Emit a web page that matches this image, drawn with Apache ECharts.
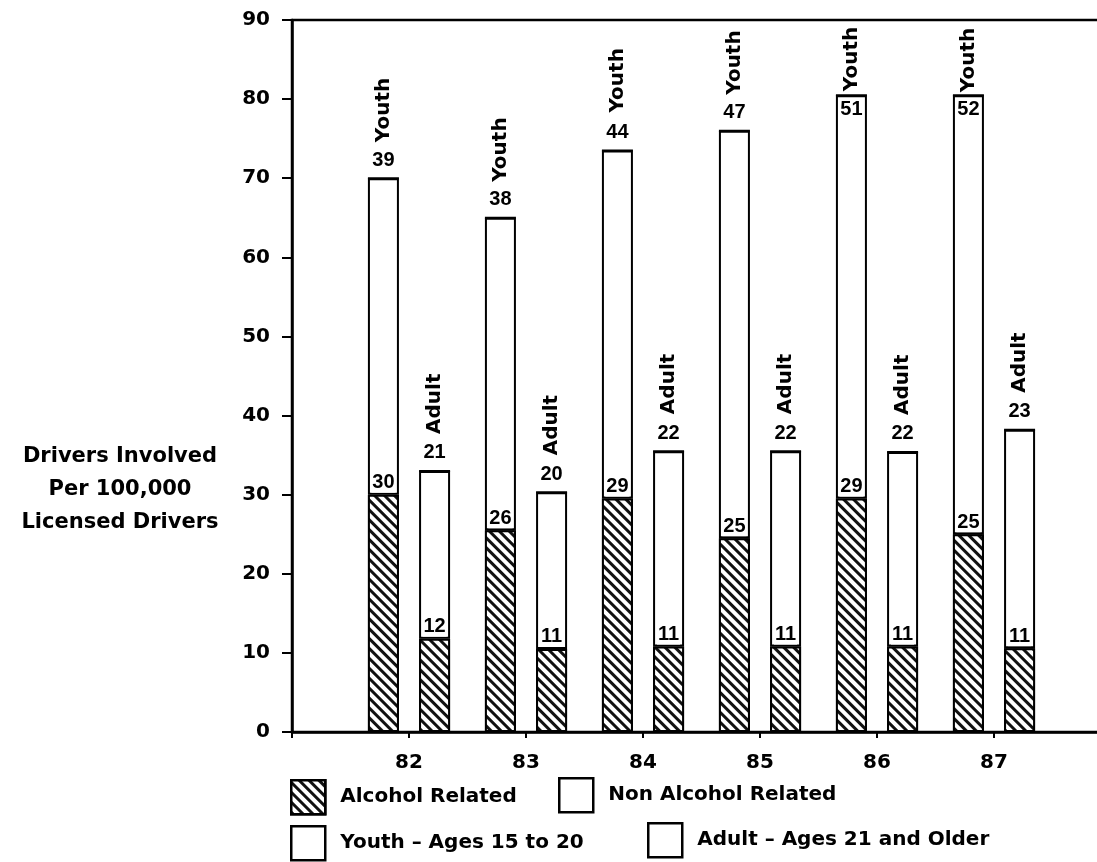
<!DOCTYPE html>
<html lang="en">
  <head>
    <meta charset="UTF-8" />
    <title>Drivers Involved Per 100,000 Licensed Drivers</title>
    <script src="https://cdn.jsdelivr.net/npm/echarts@6/dist/echarts.min.js"></script>
    <style>
      html, body { margin: 0; padding: 0; background: #fff; }
      #box { width: 1097px; height: 862px; }
    </style>
  </head>
  <body>
    <div id="box"></div>
    <script>
      // years on the x axis
      var years = ["82", "83", "84", "85", "86", "87"];
      // bar segment heights as drawn
      var youthAlcohol = [30, 25.5, 29.5, 24.5, 29.5, 25];
      var youthNonAlcohol = [40, 39.5, 44, 51.5, 51, 55.5];
      var adultAlcohol = [11.8, 10.5, 10.8, 10.8, 10.8, 10.6];
      var adultNonAlcohol = [21.2, 19.8, 24.7, 24.7, 24.6, 27.6];
      // numbers printed on the bars
      var youthAlcoholLabels = [30, 26, 29, 25, 29, 25];
      var youthNonAlcoholLabels = [39, 38, 44, 47, 51, 52];
      var adultAlcoholLabels = [12, 11, 11, 11, 11, 11];
      var adultNonAlcoholLabels = [21, 20, 22, 22, 22, 23];
      // y axis ticks
      var yTicks = [0, 10, 20, 30, 40, 50, 60, 70, 80, 90];

      var numFont = "Liberation Sans";
      var textFont = "DejaVu Sans";

      // empty category at each end so the years sit on ticks
      var categories = [""].concat(years).concat([""]);
      function pad(arr) {
        return ["-"].concat(arr).concat(["-"]);
      }

      var hatch = {
        symbol: "rect",
        symbolSize: 1,
        dashArrayX: [1, 0],
        dashArrayY: [2.2, 3.8],
        rotation: Math.PI / 4,
        color: "#111",
        backgroundColor: "#fff",
      };

      var numLabel = {
        show: true,
        fontFamily: numFont,
        fontWeight: "bold",
        fontSize: 20,
        color: "#000",
      };

      function withLabels(values, labels, base, inside) {
        return pad(values.map(function (v, i) {
          var lbl = Object.assign({}, base, { formatter: String(labels[i]) });
          if (inside && inside[i]) {
            lbl.position = "insideTop";
            lbl.distance = 4;
          }
          return { value: v, label: lbl };
        }));
      }

      function wordData(word, distances) {
        return pad(years.map(function (y, i) {
          return {
            value: 0,
            label: {
              show: true,
              formatter: word,
              position: "top",
              distance: distances[i],
              rotate: 90,
              align: "left",
              verticalAlign: "middle",
              fontFamily: textFont,
              fontWeight: "bold",
              fontSize: 20,
              color: "#000",
            },
          };
        }));
      }

      var barStyle = { color: "#fff", borderColor: "#000", borderWidth: 2 };
      var alcStyle = { color: "#fff", borderColor: "#000", borderWidth: 2, decal: hatch };

      var alcLabel = Object.assign({}, numLabel, {
        position: "top",
        distance: 2,
        backgroundColor: "#fff",
        padding: [1, 1, 0, 1],
      });
      var topLabel = Object.assign({}, numLabel, { position: "top", distance: 8 });

      var barCommon = { type: "bar", barWidth: 31, barGap: "65%" };

      var axisText = {
        fontFamily: textFont,
        fontWeight: "bold",
        fontSize: 20,
        color: "#000",
      };

      var chart = echarts.init(document.getElementById("box"));
      chart.setOption({
        animation: false,
        backgroundColor: "#fff",
        grid: {
          left: 292,
          top: 20,
          width: 819,
          bottom: 130,
          outerBoundsMode: "none",
          containLabel: false,
          show: true,
          borderColor: "#000",
          borderWidth: 2.5,
          backgroundColor: "transparent",
        },
        xAxis: {
          type: "category",
          data: categories,
          boundaryGap: false,
          axisLine: { lineStyle: { color: "#000", width: 2.5 } },
          axisTick: { length: 6, lineStyle: { color: "#000", width: 2 } },
          axisLabel: Object.assign({ margin: 21 }, axisText),
          splitLine: { show: false },
        },
        yAxis: {
          type: "value",
          min: yTicks[0],
          max: yTicks[yTicks.length - 1],
          interval: 10,
          axisLine: { show: true, lineStyle: { color: "#000", width: 2.5 } },
          axisTick: { show: true, length: 10, lineStyle: { color: "#000", width: 2 } },
          axisLabel: Object.assign({ margin: 22 }, axisText),
          splitLine: { show: false },
        },
        legend: [
          { name: "Alcohol Related", left: 290, top: 779 },
          { name: "Non Alcohol Related", left: 558, top: 777 },
          { name: "Youth – Ages 15 to 20", left: 290, top: 825 },
          { name: "Adult – Ages 21 and Older", left: 647, top: 822 },
        ].map(function (l) {
          return {
            data: [l.name],
            left: l.left,
            top: l.top,
            padding: 0,
            icon: "rect",
            itemWidth: 34,
            itemHeight: 34,
            selectedMode: false,
            itemStyle: { borderColor: "#000", borderWidth: 2.5 },
            textStyle: {
              fontFamily: textFont,
              fontWeight: "bold",
              fontSize: 20,
              color: "#000",
              padding: [0, 0, 0, 10],
            },
          };
        }),
        graphic: [
          {
            type: "text",
            x: 120,
            y: 490,
            style: {
              text: "Drivers Involved\nPer 100,000\nLicensed Drivers",
              font: 'bold 21px "DejaVu Sans"',
              fill: "#000",
              align: "center",
              verticalAlign: "middle",
              lineHeight: 33,
            },
          },
        ],
        series: [
          Object.assign({}, barCommon, {
            name: "Alcohol Related",
            stack: "youth",
            itemStyle: alcStyle,
            data: withLabels(youthAlcohol, youthAlcoholLabels, alcLabel),
            z: 3,
          }),
          Object.assign({}, barCommon, {
            name: "Non Alcohol Related",
            stack: "youth",
            itemStyle: barStyle,
            data: withLabels(youthNonAlcohol, youthNonAlcoholLabels, topLabel, [false, false, false, false, true, true]),
            z: 2,
          }),
          Object.assign({}, barCommon, {
            name: "Youth – Ages 15 to 20",
            stack: "youth",
            itemStyle: barStyle,
            data: wordData("Youth", [35, 35, 37, 35, 3, 2]),
          }),
          Object.assign({}, barCommon, {
            name: "Alcohol Related",
            stack: "adult",
            itemStyle: alcStyle,
            data: withLabels(adultAlcohol, adultAlcoholLabels, alcLabel),
            z: 3,
          }),
          Object.assign({}, barCommon, {
            name: "Non Alcohol Related",
            stack: "adult",
            itemStyle: barStyle,
            data: withLabels(adultNonAlcohol, adultNonAlcoholLabels, topLabel),
            z: 2,
          }),
          Object.assign({}, barCommon, {
            name: "Adult – Ages 21 and Older",
            stack: "adult",
            itemStyle: barStyle,
            data: wordData("Adult", [36, 36, 36, 36, 36, 36]),
          }),
        ],
      });
    </script>
  </body>
</html>
